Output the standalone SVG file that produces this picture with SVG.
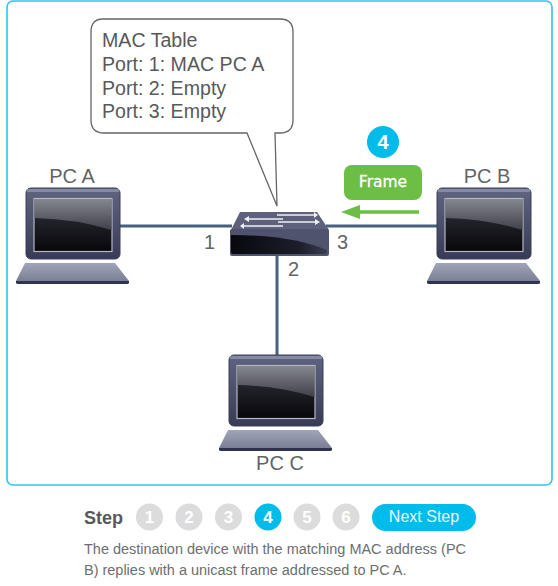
<svg xmlns="http://www.w3.org/2000/svg" xmlns:xlink="http://www.w3.org/1999/xlink" width="558" height="586" viewBox="0 0 558 586">
<style>
text{font-family:"Liberation Sans",Arial,sans-serif}
.lab{font-size:20px;fill:#636466}
.tbl{font-size:19.6px;fill:#58595b}
.cable{stroke:#46607f;stroke-width:3;fill:none}
.off{fill:#dcdcdc}
.stepn{font-size:17px;font-weight:bold;text-anchor:middle;fill:#fff}
.desc{font-size:14.47px;fill:#6d6e70}
</style>
<defs>
<linearGradient id="body" x1="0" y1="0" x2="0" y2="1"><stop offset="0" stop-color="#5f6480"/><stop offset="1" stop-color="#383b55"/></linearGradient>
<linearGradient id="scr" x1="0" y1="0" x2="0" y2="1"><stop offset="0" stop-color="#34353f"/><stop offset="1" stop-color="#07070b"/></linearGradient>
<linearGradient id="gloss" x1="0" y1="0" x2="0" y2="1"><stop offset="0" stop-color="#85878f"/><stop offset="1" stop-color="#3f404a"/></linearGradient>
<linearGradient id="key" x1="0" y1="0" x2="0" y2="1"><stop offset="0" stop-color="#a1a5b8"/><stop offset="1" stop-color="#7b7f96"/></linearGradient>
<linearGradient id="sw" x1="0" y1="0" x2="1" y2="0"><stop offset="0" stop-color="#08080e"/><stop offset="0.7" stop-color="#1c1d29"/><stop offset="1" stop-color="#3b3d52"/></linearGradient>
<g id="laptop">
<rect x="0" y="0" width="94" height="71" rx="5" fill="url(#body)" stroke="#3c3f59"/>
<rect x="0.5" y="1" width="93" height="3" rx="1.5" fill="#858aa2"/>
<rect x="8" y="10.500" width="78" height="53" fill="url(#scr)" stroke="#b5b8c6" stroke-width="1.2"/>
<path d="M8.600 11.100H85.400V42Q50 31 8.600 30Z" fill="url(#gloss)"/>
<path d="M-1 75H89L103 93H-10Z" fill="url(#key)"/>
<path d="M-10 93H103V94.500Q103 96 101 96H-8Q-10 96-10 94.500Z" fill="#2f3350"/>
</g>
</defs>
<rect width="558" height="586" fill="#fff"/>
<rect x="7" y="1" width="545" height="484" rx="6" fill="#fff" stroke="#2dc6ee" stroke-width="1.6"/>
<g id="connectors">
<path class="cable" d="M119 226H232"/>
<path class="cable" d="M326 226H438"/>
<path class="cable" d="M277 250V355"/>
</g>
<g id="pc-a"><use xlink:href="#laptop" x="26" y="188"/><text class="lab" x="72" y="183" text-anchor="middle">PC A</text></g>
<g id="pc-b"><use xlink:href="#laptop" x="437" y="188"/><text class="lab" x="487" y="183" text-anchor="middle">PC B</text></g>
<g id="pc-c"><use xlink:href="#laptop" x="229" y="355"/><text class="lab" x="280" y="470" text-anchor="middle">PC C</text></g>
<g id="switch">
<path d="M240 212H317L329 230H231Z" fill="#5d617c"/>
<rect x="230" y="229" width="99" height="27" rx="2" fill="#50536d"/>
<path d="M231 235Q290 235 327 250V251Q327 254 325 254H233Q231 254 231 252Z" fill="url(#sw)"/>
<path d="M277 215H314M246 219H283M278 222H318M241 226H283" stroke="#eef0f5" stroke-width="1.6" fill="none"/>
<path d="M314 212L318 215L314 218ZM249 216L244 219L249 222ZM315 219L320 222L315 225ZM244 223L240 226L244 229Z" fill="#eef0f5"/>
</g>
<g id="port-labels">
<text class="lab" x="204" y="249">1</text>
<text class="lab" x="288" y="276">2</text>
<text class="lab" x="337" y="249">3</text>
</g>
<g id="mac-table">
<path d="M103 19H280Q293 19 293 32V120Q293 133 280 133H275L277 206L247 133H104Q91 133 91 120V32Q91 19 103 19Z" fill="#fff" stroke="#666" stroke-width="1.3"/>
<text class="tbl" x="102" y="47">MAC Table</text>
<text class="tbl" x="102" y="71">Port: 1: MAC PC A</text>
<text class="tbl" x="102" y="95">Port: 2: Empty</text>
<text class="tbl" x="102" y="118">Port: 3: Empty</text>
</g>
<g id="frame">
<circle cx="383" cy="142" r="16" fill="#00bceb"/>
<text x="383" y="149" font-size="20" font-weight="bold" text-anchor="middle" fill="#fff">4</text>
<rect x="344" y="165" width="78" height="35" rx="8" fill="#6cbe45"/>
<text x="383" y="187" style="font-family:'DejaVu Sans',sans-serif" font-size="15.500" font-weight="500" stroke="#fff" stroke-width="0.3" text-anchor="middle" fill="#fff">Frame</text>
<path d="M419 212H358" stroke="#6cbe45" stroke-width="3.6"/>
<path d="M341 212L360 205V219Z" fill="#6cbe45"/>
</g>
<g id="stepper">
<text x="84" y="524" font-size="18" font-weight="bold" fill="#58595b">Step</text>
<circle class="off" cx="149.500" cy="517" r="13.500"/><text class="stepn" x="149.500" y="523">1</text>
<circle class="off" cx="189" cy="517" r="13.500"/><text class="stepn" x="189" y="523">2</text>
<circle class="off" cx="228.500" cy="517" r="13.500"/><text class="stepn" x="228.500" y="523">3</text>
<circle cx="268" cy="517" r="13.500" fill="#00bceb"/><text class="stepn" x="268" y="523">4</text>
<circle class="off" cx="307" cy="517" r="13.500"/><text class="stepn" x="307" y="523">5</text>
<circle class="off" cx="346" cy="517" r="13.500"/><text class="stepn" x="346" y="523">6</text>
<rect x="372" y="504" width="104" height="27" rx="13.500" fill="#00bceb"/>
<text x="424" y="522" font-size="16" text-anchor="middle" fill="#e8f9fd">Next Step</text>
</g>
<g id="description">
<text class="desc" x="84" y="554">The destination device with the matching MAC address (PC</text>
<text class="desc" x="84" y="575">B) replies with a unicast frame addressed to PC A.</text>
</g>
</svg>
